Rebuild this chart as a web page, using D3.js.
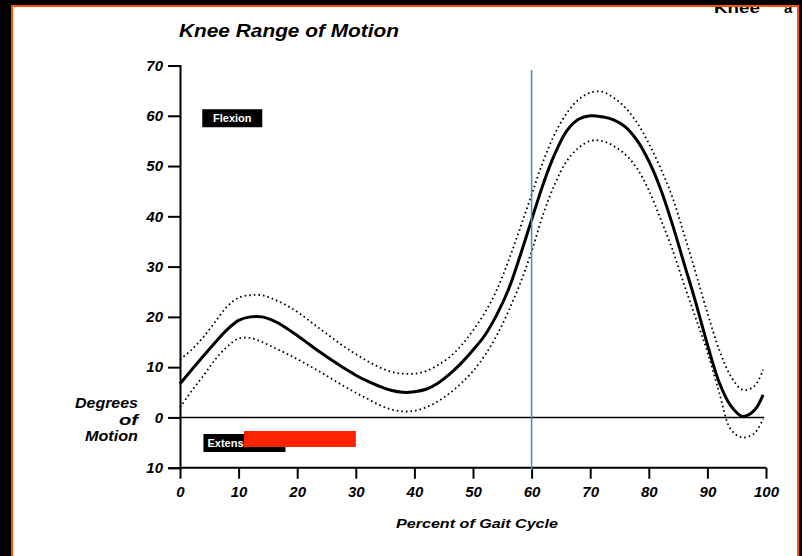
<!DOCTYPE html>
<html>
<head>
<meta charset="utf-8">
<script src="https://cdn.jsdelivr.net/npm/d3@7/dist/d3.min.js"></script>
<style>
  html, body { margin: 0; padding: 0; background: #000; }
  svg { display: block; }
  text { font-family: "Liberation Sans", Arial, sans-serif; }
</style>
</head>
<body>
<svg id="chart" width="802" height="556"></svg>
<script>
// ---- data ----
const percent = [0,2,4,6,8,10,12,14,16,18,20,22,24,26,28,30,32,34,36,38,40,42,44,46,48,50,52,54,56,58,60,62,64,66,68,70,72,74,76,78,80,82,84,86,88,90,92,94,96,98,99.5];
const meanDeg = [6.7,9.5,12.2,14.9,17.4,19.3,20.0,20.0,19.2,17.9,16.3,
  14.6,12.9,11.3,9.8,8.4,7.2,6.2,5.4,5.0,5.1,
  5.6,6.8,8.6,10.8,13.4,16.3,20.3,25.3,32.0,39.3,
  46.5,52.5,57.0,59.3,60.0,59.8,59.2,57.8,55.1,51.0,
  45.5,38.5,30.7,22.9,14.5,7.0,2.3,0.2,1.4,4.5];
const upperDeg = [11.5,13.5,16.0,19.0,22.0,23.8,24.3,24.3,23.5,22.4,21.0,
  19.3,17.5,15.8,14.1,12.6,11.2,10.0,9.1,8.7,8.7,
  9.2,10.4,12.0,14.3,17.3,20.8,25.2,31.0,37.5,44.3,
  51.0,56.5,60.5,63.2,64.6,64.8,63.6,61.6,58.6,54.5,
  49.6,43.9,36.5,28.8,20.8,13.5,8.2,5.5,6.2,9.5];
const lowerDeg = [2.0,5.3,8.3,11.5,14.0,15.7,15.8,15.0,13.9,12.8,11.6,
  10.3,9.0,7.6,6.2,4.9,3.7,2.5,1.6,1.2,1.3,
  2.0,3.2,4.8,6.8,9.2,12.3,16.2,21.0,26.5,33.0,
  40.5,46.5,51.0,53.6,55.0,55.0,54.0,52.3,49.5,45.2,
  39.5,33.5,26.5,19.8,13.0,5.0,-2.4,-4.0,-3.2,-0.3];
const xTicks = [0,10,20,30,40,50,60,70,80,90,100];
const xTickLabels = ["0","10","20","30","40","50","60","70","80","90","100"];
const yTicks = [-10,0,10,20,30,40,50,60,70];
const yTickLabels = ["10","0","10","20","30","40","50","60","70"];
const markerPercent = 60;
const title = "Knee Range of Motion";
const xTitle = "Percent of Gait Cycle";
const yTitle = ["Degrees", "of", "Motion"];
const flexionLabel = "Flexion";
const extensionLabel = "Extension";

// ---- drawing ----
const svg = d3.select("#chart");
const W = 802, H = 556;

// page
svg.append("rect").attr("x", 0).attr("y", 0).attr("width", W).attr("height", H).attr("fill", "#000");
svg.append("rect").attr("x", 12).attr("y", 6).attr("width", 786).attr("height", H - 6).attr("fill", "#fff");

const x = d3.scaleLinear().domain([0, 100]).range([180, 766]);
const y = d3.scaleLinear().domain([-10, 70]).range([467.7, 65.5]);

const boldItalic = s => s.attr("font-weight", "bold").attr("font-style", "italic").attr("fill", "#000");

// top-right partial header text (cut off by page edge in the reference)
svg.append("text").attr("x", 714).attr("y", 13).attr("font-size", 15).attr("font-weight", "bold").attr("fill", "#000")
  .attr("textLength", 46).attr("lengthAdjust", "spacingAndGlyphs").text("Knee");
svg.append("text").attr("x", 784).attr("y", 13).attr("font-size", 15).attr("font-weight", "bold").attr("fill", "#000").text("a");

// title
svg.append("text").attr("x", 179).attr("y", 37).attr("font-size", 18)
  .attr("textLength", 220).attr("lengthAdjust", "spacingAndGlyphs")
  .call(boldItalic).text(title);

// zero line
svg.append("line").attr("x1", x(0)).attr("x2", x(99.7)).attr("y1", y(0)).attr("y2", y(0))
  .attr("stroke", "#000").attr("stroke-width", 1.6);

// y axis
const yAxis = d3.axisLeft(y).tickValues(yTicks).tickSize(12).tickPadding(5)
  .tickFormat((d, i) => yTickLabels[i]);
const gy = svg.append("g").attr("transform", `translate(${x(0)},0)`).call(yAxis);
gy.select(".domain").attr("stroke", "#000").attr("stroke-width", 2);
gy.selectAll(".tick line").attr("stroke", "#000").attr("stroke-width", 2);
gy.selectAll(".tick text").attr("font-size", 15).attr("font-family", "Liberation Sans, Arial, sans-serif")
  .call(boldItalic);

// x axis at -10
const xAxis = d3.axisBottom(x).tickValues(xTicks).tickSize(11).tickPadding(8)
  .tickFormat((d, i) => xTickLabels[i]);
const gx = svg.append("g").attr("transform", `translate(0,${y(-10)})`).call(xAxis);
gx.select(".domain").attr("stroke", "#000").attr("stroke-width", 2).attr("d", `M${x(0)},0H${x(100)}`);
gx.selectAll(".tick line").attr("stroke", "#000").attr("stroke-width", 2);
gx.selectAll(".tick text").attr("font-size", 15).attr("font-family", "Liberation Sans, Arial, sans-serif")
  .call(boldItalic);

// axis titles
svg.append("text").attr("x", 477).attr("y", 528).attr("text-anchor", "middle").attr("font-size", 13.5)
  .attr("textLength", 162).attr("lengthAdjust", "spacingAndGlyphs")
  .call(boldItalic).text(xTitle);
const yTitleLen = [63, 19, 53];
yTitle.forEach((t, i) => {
  svg.append("text").attr("x", 138).attr("y", 408 + i * 16.5).attr("text-anchor", "end")
    .attr("font-size", 15).attr("textLength", yTitleLen[i]).attr("lengthAdjust", "spacingAndGlyphs")
    .call(boldItalic).text(t);
});

// label boxes
svg.append("rect").attr("x", x(3.8)).attr("y", y(61.3)).attr("width", 60).attr("height", 18).attr("fill", "#000");
svg.append("text").attr("x", x(3.8) + 30).attr("y", y(61.3) + 13).attr("text-anchor", "middle")
  .attr("font-size", 11).attr("font-weight", "bold").attr("fill", "#fff").text(flexionLabel);
svg.append("rect").attr("x", x(4)).attr("y", y(-3.3)).attr("width", 82).attr("height", 18).attr("fill", "#000");
svg.append("text").attr("x", x(4) + 4).attr("y", y(-3.3) + 13)
  .attr("font-size", 11).attr("font-weight", "bold").attr("fill", "#fff").text(extensionLabel);
svg.append("rect").attr("x", x(10.9)).attr("y", y(-2.7)).attr("width", 112).attr("height", 16).attr("fill", "#ff2400");

// curves
const line = d3.line().x((d, i) => x(percent[i])).y(d => y(d)).curve(d3.curveCatmullRom.alpha(0.5));
[upperDeg, lowerDeg].forEach(s => {
  svg.append("path").attr("d", line(s)).attr("fill", "none").attr("stroke", "#000")
    .attr("stroke-width", 1.8).attr("stroke-dasharray", "1.6,3");
});
svg.append("path").attr("d", line(meanDeg)).attr("fill", "none").attr("stroke", "#000")
  .attr("stroke-width", 3).attr("stroke-linejoin", "round");

// marker line at 60%
svg.append("line").attr("x1", x(markerPercent)).attr("x2", x(markerPercent))
  .attr("y1", y(69.1)).attr("y2", y(-10) + 2)
  .attr("stroke", "#4a88cc").attr("stroke-width", 1.5);

// frame (black margins + orange border) drawn on top
svg.append("rect").attr("x", 0).attr("y", 0).attr("width", W).attr("height", 5).attr("fill", "#000");
svg.append("rect").attr("x", 0).attr("y", 0).attr("width", 11).attr("height", H).attr("fill", "#000");
svg.append("rect").attr("x", 799).attr("y", 0).attr("width", 3).attr("height", H).attr("fill", "#000");
svg.append("path").attr("d", `M12,${H}V6H798V${H}`).attr("fill", "none").attr("stroke", "#ff5000").attr("stroke-width", 2);
</script>
</body>
</html>
